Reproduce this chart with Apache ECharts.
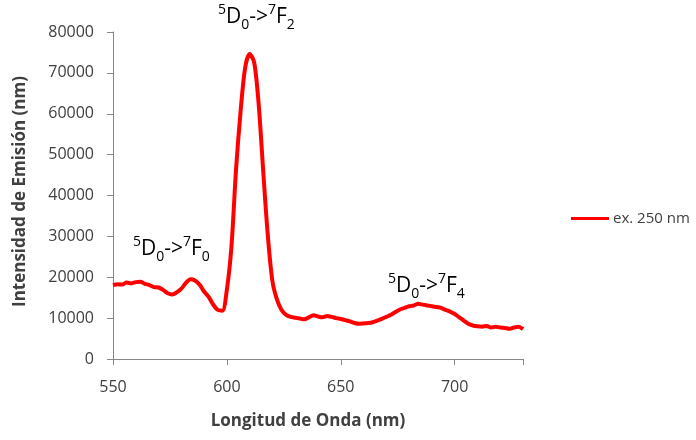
<!DOCTYPE html>
<html>
<head>
<meta charset="utf-8">
<script src="https://cdn.jsdelivr.net/npm/echarts@6/dist/echarts.min.js"></script>
<style>html,body{margin:0;padding:0;background:#fff}#c{width:696px;height:440px}</style>
</head>
<body>
<div id="c"></div>
<script>
// wavelengths (nm)
const wavelengths = [550,552,554,556,558,560,562,564,566,568,570,572,574,576,578,580,582,584,586,588,590,592,594,596,598,600,602,604,606,608,610,612,614,616,618,620,622,624,626,628,630,632,634,636,638,640,642,644,646,648,650,652,654,656,658,660,662,664,666,668,670,672,674,676,678,680,682,684,686,688,690,692,694,696,698,700,702,704,706,708,710,712,714,716,718,720,722,724,726,728,730];
// emission intensity, ex. 250 nm
const intensity = [18100,18300,18200,18700,18500,18800,18900,18400,18100,17600,17500,16900,16100,15800,16300,17200,18600,19500,19200,18200,16500,15200,13300,12000,11800,17000,27500,46200,60500,71200,74600,72500,62000,45500,30000,19000,14500,12000,10800,10300,10100,9900,9700,10200,10700,10400,10200,10500,10300,10000,9800,9500,9200,8800,8600,8700,8800,9000,9400,9800,10300,10800,11500,12100,12500,12900,13100,13500,13300,13100,12900,12700,12500,12000,11600,11000,10200,9400,8600,8200,8000,7900,8100,7700,7900,7700,7600,7400,7700,7900,7300];
const seriesName = 'ex. 250 nm';
const xTicks = [550,600,650,700];
const yTicks = [0,10000,20000,30000,40000,50000,60000,70000,80000];
const annotations = [
  {sup1:'5', a:'D', sub1:'0', mid:'->', sup2:'7', b:'F', sub2:'2'},
  {sup1:'5', a:'D', sub1:'0', mid:'->', sup2:'7', b:'F', sub2:'0'},
  {sup1:'5', a:'D', sub1:'0', mid:'->', sup2:'7', b:'F', sub2:'4'}
];
const annotationPos = [[218,3],[133,235],[388,272]];

const FONT = '"Open Sans", Lato, sans-serif';
const rich = {
  n: {fontSize: 21, lineHeight: 29, fontFamily: FONT, color: '#111'},
  sup: {fontSize: 14, lineHeight: 14, verticalAlign: 'top', fontFamily: FONT, color: '#111'},
  sub: {fontSize: 14, lineHeight: 14, verticalAlign: 'bottom', fontFamily: FONT, color: '#111'}
};
function annText(t){
  return '{sup|'+t.sup1+'}{n|'+t.a+'}{sub|'+t.sub1+'}{n|'+t.mid+'}{sup|'+t.sup2+'}{n|'+t.b+'}{sub|'+t.sub2+'}';
}

const chart = echarts.init(document.getElementById('c'), null, {renderer:'canvas'});
chart.setOption({
  animation: false,
  backgroundColor: '#fff',
  grid: {left: 113, right: 173, top: 32, bottom: 81, containLabel: false},
  legend: {
    left: 566, top: 206, icon: 'rect', itemWidth: 38, itemHeight: 3, itemGap: 4,
    textStyle: {fontSize: 15, color: '#404040', fontFamily: FONT, padding: [0,0,0,-1]},
    data: [seriesName]
  },
  xAxis: {
    type: 'value', min: 550, max: 730, interval: 50,
    name: 'Longitud de Onda (nm)', nameLocation: 'middle', nameGap: 54,
    nameTextStyle: {fontSize: 17, fontWeight: 'bold', color: '#404040', fontFamily: FONT, padding: [0,20,0,0]},
    axisLine: {show: true, lineStyle: {color: '#868686', width: 1}},
    axisTick: {show: true, inside: false, length: 6, lineStyle: {color: '#868686'}},
    axisLabel: {fontSize: 16, color: '#404040', margin: 20, fontFamily: FONT,
      formatter: v => xTicks.indexOf(v) >= 0 ? String(v) : ''},
    splitLine: {show: false}
  },
  yAxis: {
    type: 'value', min: 0, max: 80000, interval: 10000,
    name: 'Intensidad de Emisión (nm)', nameLocation: 'middle', nameGap: 84,
    nameTextStyle: {fontSize: 17, fontWeight: 'bold', color: '#404040', fontFamily: FONT, padding: [0,0,0,8]},
    axisLine: {show: true, lineStyle: {color: '#868686', width: 1}},
    axisTick: {show: true, inside: false, length: 6, lineStyle: {color: '#868686'}},
    axisLabel: {fontSize: 16, color: '#404040', margin: 19, fontFamily: FONT,
      formatter: v => yTicks.indexOf(v) >= 0 ? String(v) : ''},
    splitLine: {show: false}
  },
  series: [{
    name: seriesName, type: 'line', symbol: 'none', smooth: 0.3,
    data: wavelengths.map((w, i) => [w, intensity[i]]),
    lineStyle: {color: '#ff0000', width: 4},
    itemStyle: {color: '#ff0000'}
  }],
  graphic: annotations.map((t, i) => ({
    type: 'text', left: annotationPos[i][0], top: annotationPos[i][1],
    style: {text: annText(t), rich: rich}
  }))
});
</script>
</body>
</html>
